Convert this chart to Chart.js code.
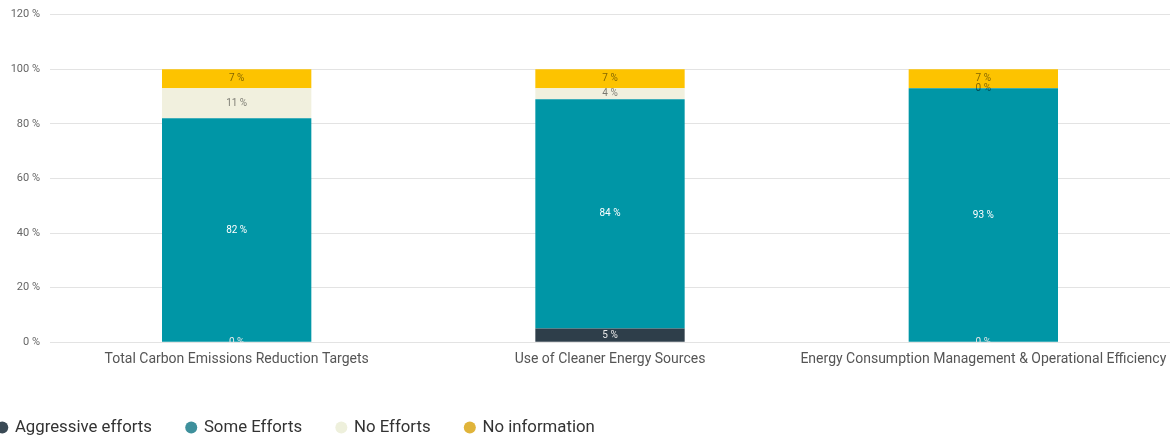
<html>
<head>
    <meta charset="utf-8">
    <script src="https://cdn.jsdelivr.net/npm/chart.js@4.4.0/dist/chart.umd.min.js"></script>
    <title>Efforts Chart</title>
    <style>
        html, body { margin: 0; padding: 0; overflow: hidden; background: #fff; }
        #wrap { position: absolute; left: -37px; top: -2px; width: 1207px; height: 448px; }
    </style>
</head>
<body>
    <div id="wrap"><canvas id="bar-chart"></canvas></div>
    <script>
        const categories = ["Total Carbon Emissions Reduction Targets", "Use of Cleaner Energy Sources", "Energy Consumption Management & Operational Efficiency"];
        const aggressive = [0, 5, 0];
        const someEfforts = [82, 84, 93];
        const noEfforts = [11, 4, 0];
        const noInfo = [7, 7, 7];

        const seriesNames = ["Aggressive efforts", "Some Efforts", "No Efforts", "No information"];
        const barColors = ["#2e3e4a", "#0096a6", "#f1f0de", "#fdc300"];
        const legendColors = ["#3a4a55", "#3e909c", "#eef0dc", "#e0b43a"];
        const labelColors = ["#e8e8e8", "#ffffff", "rgba(0,0,0,0.5)", "rgba(0,0,0,0.5)"];

        const barLabels = {
            id: 'barLabels',
            afterDatasetsDraw(chart) {
                const ctx = chart.ctx;
                const area = chart.chartArea;
                ctx.save();
                ctx.beginPath();
                ctx.rect(area.left, area.top, area.right - area.left, area.bottom - area.top);
                ctx.clip();
                ctx.font = "10px Roboto";
                ctx.textAlign = "center";
                ctx.textBaseline = "middle";
                chart.data.datasets.forEach(function(ds, i) {
                    const meta = chart.getDatasetMeta(i);
                    meta.data.forEach(function(bar, j) {
                        const p = bar.getProps(['x', 'y', 'base'], true);
                        ctx.fillStyle = labelColors[i];
                        ctx.fillText(ds.data[j] + " %", p.x, (p.y + p.base) / 2);
                    });
                });
                ctx.restore();
            }
        };

        const values = [aggressive, someEfforts, noEfforts, noInfo];

        new Chart(document.getElementById("bar-chart"), {
            type: 'bar',
            data: {
                labels: categories,
                datasets: values.map(function(v, i) {
                    return {
                        label: seriesNames[i],
                        data: v,
                        backgroundColor: barColors[i],
                        borderWidth: 0,
                        categoryPercentage: 0.8,
                        barPercentage: 0.5
                    };
                })
            },
            plugins: [barLabels],
            options: {
                responsive: true,
                maintainAspectRatio: false,
                animation: false,
                layout: { padding: { top: 8, right: 0, bottom: 0, left: 0 } },
                plugins: {
                    tooltip: { enabled: false },
                    legend: {
                        position: 'bottom',
                        align: 'start',
                        labels: {
                            usePointStyle: true,
                            pointStyle: 'circle',
                            boxWidth: 8.5,
                            boxHeight: 8.5,
                            padding: 35,
                            color: '#333',
                            font: { family: 'Roboto', size: 16.8 },
                            generateLabels: function(chart) {
                                return seriesNames.map(function(n, i) {
                                    return {
                                        text: n,
                                        fillStyle: legendColors[i],
                                        strokeStyle: legendColors[i],
                                        lineWidth: 0,
                                        pointStyle: 'circle',
                                        datasetIndex: i,
                                        fontColor: '#333'
                                    };
                                });
                            }
                        }
                    }
                },
                scales: {
                    x: {
                        stacked: true,
                        grid: { display: false },
                        border: { display: false },
                        ticks: { color: '#555', font: { family: 'Roboto', size: 14 }, padding: 1, maxRotation: 0 },
                        afterFit: function(scale) { scale.height = 42; }
                    },
                    y: {
                        stacked: true,
                        min: 0,
                        max: 120,
                        ticks: {
                            stepSize: 20,
                            color: '#666',
                            padding: 10,
                            font: { family: 'Roboto', size: 11 },
                            callback: function(v) { return v + " %"; }
                        },
                        grid: { color: '#e3e3e3', drawTicks: false },
                        border: { display: false },
                        afterFit: function(scale) { scale.width = 87; }
                    }
                }
            }
        });
    </script>
</body>
</html>
